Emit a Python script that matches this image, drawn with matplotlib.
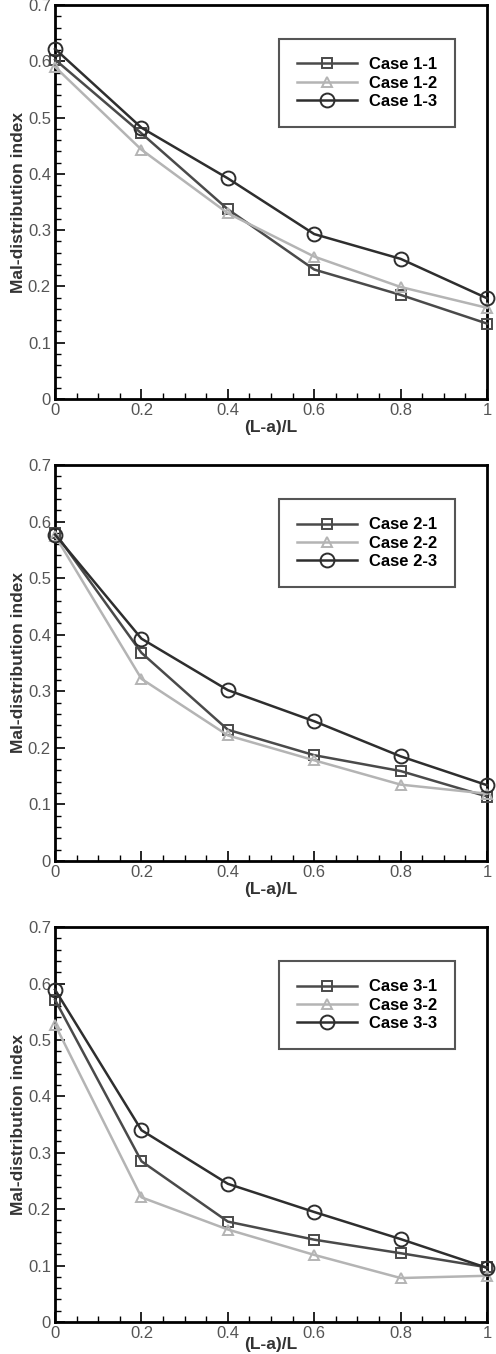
# Mal-distribution index vs (L-a)/L, three stacked panels

import matplotlib.pyplot as plt
from matplotlib.ticker import MultipleLocator

plt.rcParams['font.family'] = ['Liberation Sans', 'DejaVu Sans']

x = [0, 0.2, 0.4, 0.6, 0.8, 1.0]

# panel 1
case1_1 = [0.603, 0.472, 0.337, 0.230, 0.185, 0.134]
case1_2 = [0.590, 0.443, 0.330, 0.253, 0.199, 0.162]
case1_3 = [0.622, 0.482, 0.392, 0.293, 0.249, 0.179]

# panel 2
case2_1 = [0.580, 0.368, 0.232, 0.187, 0.159, 0.114]
case2_2 = [0.575, 0.322, 0.222, 0.178, 0.135, 0.119]
case2_3 = [0.577, 0.393, 0.302, 0.247, 0.185, 0.134]

# panel 3
case3_1 = [0.571, 0.285, 0.178, 0.146, 0.122, 0.097]
case3_2 = [0.527, 0.221, 0.164, 0.119, 0.078, 0.082]
case3_3 = [0.589, 0.340, 0.245, 0.195, 0.147, 0.096]

panels = [
    (['Case 1-1', 'Case 1-2', 'Case 1-3'], [case1_1, case1_2, case1_3]),
    (['Case 2-1', 'Case 2-2', 'Case 2-3'], [case2_1, case2_2, case2_3]),
    (['Case 3-1', 'Case 3-2', 'Case 3-3'], [case3_1, case3_2, case3_3]),
]

# axes boxes in figure fractions [left, bottom, width, height]
boxes = [
    [0.111, 0.7053, 0.871, 0.291],
    [0.111, 0.3641, 0.871, 0.2925],
    [0.111, 0.0236, 0.871, 0.2917],
]
xlabel_pads = [1, 1, -3]

styles = [
    dict(color='#4a4a4a', marker='s', ms=7),
    dict(color='#b4b4b4', marker='^', ms=7),
    dict(color='#2e2e2e', marker='o', ms=10),
]

fig = plt.figure(figsize=(4.96, 13.54), dpi=100)

for (labels, series), box, lp in zip(panels, boxes, xlabel_pads):
    ax = fig.add_axes(box)
    for lab, y, st in zip(labels, series, styles):
        ax.plot(x, y, color=st['color'], marker=st['marker'], markersize=st['ms'],
                markerfacecolor='none', markeredgecolor=st['color'],
                markeredgewidth=1.4, linewidth=1.8, label=lab, clip_on=False, zorder=3)
    ax.set_xlim(0, 1)
    ax.set_ylim(0, 0.7)
    ax.xaxis.set_major_locator(MultipleLocator(0.2))
    ax.xaxis.set_minor_locator(MultipleLocator(0.05))
    ax.yaxis.set_major_locator(MultipleLocator(0.1))
    ax.yaxis.set_minor_locator(MultipleLocator(0.02))
    ax.xaxis.set_major_formatter(lambda v, p: f'{v:g}')
    ax.yaxis.set_major_formatter(lambda v, p: f'{v:g}')
    ax.tick_params(which='major', direction='in', length=7, width=1.2,
                   labelsize=12, labelcolor='#555555', pad=3)
    ax.tick_params(which='minor', direction='in', length=4, width=1)
    for s in ax.spines.values():
        s.set_linewidth(2)
    ax.set_xlabel('(L-a)/L', fontsize=12.5, fontweight='bold', color='#333333', labelpad=lp)
    ax.set_ylabel('Mal-distribution index', fontsize=12.5, fontweight='bold',
                  color='#333333', labelpad=1)
    leg = ax.legend(loc='upper right', bbox_to_anchor=(0.926, 0.914), borderaxespad=0,
                    numpoints=1, handlelength=3.6, fancybox=False, framealpha=1,
                    edgecolor='#555555', prop={'weight': 'bold', 'size': 12},
                    borderpad=1.1, labelspacing=0.2, handletextpad=0.7)
    leg.get_frame().set_linewidth(1.5)

fig.savefig('out.png', dpi=100)
